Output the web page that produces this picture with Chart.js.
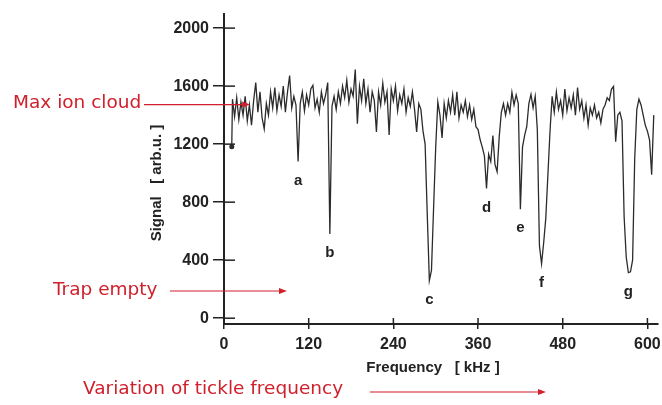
<!DOCTYPE html>
<html>
<head>
<meta charset="utf-8">
<script src="https://cdn.jsdelivr.net/npm/chart.js@4"></script>
<style>
  html, body { margin: 0; padding: 0; background: #fff; }
  canvas { display: block; }
</style>
</head>
<body>
<canvas id="chart" width="662" height="405"></canvas>
<script>
// frequency sweep in kHz
const frequency = [11,
  12, 15, 18, 21, 24, 27, 30, 33, 36, 39,
  42, 45, 48, 51, 54, 57, 60, 63, 66, 69,
  72, 75, 78, 81, 84, 87, 90, 93, 96, 99,
  102, 105, 108, 111, 114, 117, 120, 123, 126, 129,
  132, 135, 138, 141, 144, 147, 150, 153, 156, 159,
  162, 165, 168, 171, 174, 177, 180, 183, 186, 189,
  192, 195, 198, 201, 204, 207, 210, 213, 216, 219,
  222, 225, 228, 231, 234, 237, 240, 243, 246, 249,
  252, 255, 258, 261, 264, 267, 270, 273, 276, 279,
  282, 285, 288, 291, 294, 297, 300, 303, 306, 309,
  312, 315, 318, 321, 324, 327, 330, 333, 336, 339,
  342, 345, 348, 351, 354, 357, 360, 363, 366, 369,
  372, 375, 378, 381, 384, 387, 390, 393, 396, 399,
  402, 405, 408, 411, 414, 417, 420, 423, 426, 429,
  432, 435, 438, 441, 444, 447, 450, 453, 456, 459,
  462, 465, 468, 471, 474, 477, 480, 483, 486, 489,
  492, 495, 498, 501, 504, 507, 510, 513, 516, 519,
  522, 525, 528, 531, 534, 537, 540, 543, 546, 549,
  552, 555, 558, 561, 564, 567, 570, 573, 576, 579,
  582, 585, 588, 591, 594, 597, 600, 603, 606, 609];

// signal in arb. units
const signal = [1182,
  1510, 1390, 1520, 1370, 1490, 1400, 1530, 1360, 1470, 1330,
  1500, 1625, 1420, 1560, 1380, 1305, 1480, 1400, 1560, 1450,
  1590, 1430, 1540, 1460, 1600, 1420, 1560, 1673, 1450, 1530,
  1470, 1080, 1480, 1560, 1430, 1540, 1470, 1580, 1605, 1450,
  1510, 1420, 1560, 1480, 1540, 1625, 580, 1460, 1530, 1440,
  1560, 1480, 1600, 1520, 1640, 1490, 1580, 1530, 1714, 1340,
  1600, 1500, 1650, 1480, 1580, 1420, 1560, 1500, 1284, 1560,
  1470, 1620, 1490, 1560, 1263, 1580, 1500, 1600, 1430, 1540,
  1480, 1580, 1420, 1520, 1460, 1560, 1440, 1284, 1480, 1440,
  1290, 1200, 720, 260, 330, 760, 1180, 1490, 1400, 1243,
  1480, 1380, 1500, 1420, 1540, 1400, 1560, 1380, 1470, 1420,
  1500, 1390, 1470, 1370, 1440, 1320, 1300, 1230, 1180, 1120,
  895, 1130, 1080, 1260, 1060, 1010, 1250, 1420, 1480, 1400,
  1480, 1420, 1557, 1470, 1540, 1480, 751, 1180, 1260, 1320,
  1480, 1543, 1450, 1530, 1300, 500, 375, 520, 690, 990,
  1290, 1530, 1420, 1560, 1440, 1500, 1400, 1580, 1430, 1520,
  1450, 1540, 1400, 1590, 1440, 1500, 1380, 1470, 1332, 1450,
  1400, 1470, 1380, 1420, 1346, 1440, 1470, 1520, 1500, 1578,
  1598, 1216, 1400, 1420, 1360, 700, 420, 314, 320, 400,
  1100, 1440, 1510, 1470, 1400, 1330, 1290, 1230, 990, 1400];

const xTicks = [0, 120, 240, 360, 480, 600];
const yTicks = [0, 400, 800, 1200, 1600, 2000];

// resonance dips and their letters
const dipLetters = ['a', 'b', 'c', 'd', 'e', 'f', 'g'];
const dipFreqs = [105, 150, 291, 372, 420, 450, 573];

const maxCloudLevel = 1480;
const ink = '#222';
const red = '#d0202c';
const tickFont = '"Liberation Sans", Arial, sans-serif';

function arrowLine(ctx, x1, y, x2) {
  ctx.beginPath();
  ctx.moveTo(x1, y);
  ctx.lineTo(x2 - 6, y);
  ctx.stroke();
  ctx.beginPath();
  ctx.moveTo(x2, y);
  ctx.lineTo(x2 - 8, y - 3);
  ctx.lineTo(x2 - 8, y + 3);
  ctx.closePath();
  ctx.fill();
}

const overlay = {
  id: 'overlay',
  afterDraw(chart) {
    const ctx = chart.ctx;
    const xs = chart.scales.x, ys = chart.scales.y;
    ctx.save();

    // inner half of the tick marks (they cross the axes)
    ctx.strokeStyle = ink;
    ctx.lineWidth = 1.5;
    yTicks.forEach(v => {
      const y = ys.getPixelForValue(v);
      ctx.beginPath(); ctx.moveTo(xs.left, y); ctx.lineTo(xs.left + 11, y); ctx.stroke();
    });
    xTicks.forEach(v => {
      const x = xs.getPixelForValue(v);
      ctx.beginPath(); ctx.moveTo(x, ys.bottom); ctx.lineTo(x, ys.bottom - 6); ctx.stroke();
    });

    // letters under each dip
    ctx.fillStyle = ink;
    ctx.font = 'bold 15px "Liberation Sans", sans-serif';
    ctx.textAlign = 'center';
    ctx.textBaseline = 'middle';
    dipLetters.forEach((l, i) => {
      let lo = Infinity;
      frequency.forEach((f, j) => { if (Math.abs(f - dipFreqs[i]) <= 4) lo = Math.min(lo, signal[j]); });
      ctx.fillText(l, xs.getPixelForValue(dipFreqs[i]), ys.getPixelForValue(lo) + 19);
    });

    // axis titles
    ctx.font = 'bold 15px ' + tickFont;
    ctx.fillText('Frequency   [ kHz ]', 433, 368);
    ctx.save();
    ctx.translate(157, 183);
    ctx.rotate(-Math.PI / 2);
    ctx.fillText('Signal   [ arb.u. ]', 0, 0);
    ctx.restore();

    // red annotations
    ctx.fillStyle = red;
    ctx.strokeStyle = red;
    ctx.lineWidth = 1.2;
    ctx.font = '18.5px "DejaVu Sans", sans-serif';
    ctx.textAlign = 'left';
    const yMax = ys.getPixelForValue(maxCloudLevel);
    ctx.fillText('Max ion cloud', 13, yMax);
    arrowLine(ctx, 144, yMax + 1, xs.getPixelForValue(37));
    ctx.fillText('Trap empty', 53, 290);
    arrowLine(ctx, 170, 291, 287);
    ctx.fillText('Variation of tickle frequency', 83, 389);
    arrowLine(ctx, 370, 392, 546);

    ctx.restore();
  }
};

new Chart(document.getElementById('chart'), {
  type: 'line',
  data: {
    datasets: [{
      data: frequency.map((f, i) => ({ x: f, y: signal[i] })),
      borderColor: '#2b2b2b',
      borderWidth: 1.3,
      pointRadius: c => c.dataIndex === 0 ? 2.5 : 0,
      pointBackgroundColor: '#2b2b2b',
      pointBorderWidth: 0,
      tension: 0
    }]
  },
  options: {
    responsive: false,
    animation: false,
    layout: { padding: { top: 10, right: 0, left: 0, bottom: 0 } },
    plugins: { legend: { display: false }, tooltip: { enabled: false } },
    scales: {
      x: {
        type: 'linear',
        min: 0,
        max: 615,
        afterBuildTicks: s => { s.ticks = xTicks.map(v => ({ value: v })); },
        afterFit: s => { s.height = 81; s.paddingRight = 0; s.paddingLeft = 0; },
        border: { display: true, color: ink, width: 2 },
        grid: { drawOnChartArea: false, drawTicks: true, tickLength: 5, color: ink, lineWidth: 1.5 },
        ticks: { color: ink, padding: 6, font: { family: tickFont, size: 16, weight: 'bold' }, maxRotation: 0, callback: v => String(v) }
      },
      y: {
        min: -40,
        max: 2100,
        afterBuildTicks: s => { s.ticks = yTicks.map(v => ({ value: v })); },
        afterFit: s => { s.width = 224; },
        border: { display: true, color: ink, width: 2 },
        grid: { drawOnChartArea: false, drawTicks: true, tickLength: 11, color: ink, lineWidth: 1.5 },
        ticks: { color: ink, padding: 4, font: { family: tickFont, size: 16, weight: 'bold' }, callback: v => String(v) }
      }
    }
  },
  plugins: [overlay]
});
</script>
</body>
</html>
